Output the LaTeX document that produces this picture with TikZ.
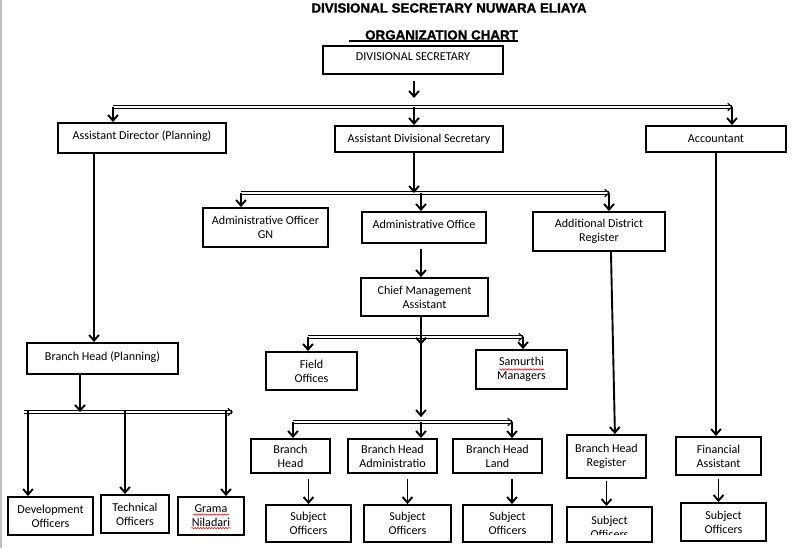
\documentclass[tikz,border=0pt]{standalone}
\usepackage{fontspec}
\setmainfont{Carlito}
\newfontfamily\titlefont[BoldFeatures = {FakeBold = 1.5}]{Liberation Sans}
\usepackage{tikz}
\usetikzlibrary{arrows.meta}
\usetikzlibrary{decorations.pathmorphing}
\usetikzlibrary{decorations.markings}

\begin{document}
\begin{tikzpicture}[x = .025cm, y = -.025cm,
  box/.style = {draw, line width = 1.35pt, inner sep = 0, align = center, font = \fontsize{8.6}{10}\selectfont},
  boxtext/.style = {inner sep = 0, align = center, font = \fontsize{8.6}{10}\selectfont},
  arr/.style = {line width = 1.35pt, -{Straight Barb[length = 4pt, width = 7pt]}},
  bus/.style = {draw = black, line width = 3pt,
    postaction = {draw = white, line width = 1.2pt},
    postaction = {decorate, decoration = {markings, mark = at position 1 with {\draw[black, line width = .8pt] (-3pt, 2.6pt) -- (0, 0) -- (-3pt, -2.6pt);}}}},
  squiggle/.style = {red, line width = .4pt, decorate, decoration = {snake, amplitude = .5pt, segment length = 2pt}}]
  \useasboundingbox (0, 0) rectangle (802, 548);
  \draw[gray!50, line width = 1.5pt] (1, 0) -- (1, 548);

  % titles
  \node[inner sep = 0, font = \titlefont\bfseries\fontsize{9.5}{11}\selectfont] (title) at (449, 8) {DIVISIONAL SECRETARY NUWARA ELIAYA};
  \node[inner sep = 0, font = \titlefont\bfseries\fontsize{9.5}{11}\selectfont] (sub) at (441.5, 35) {ORGANIZATION CHART};
  \coordinate (ul) at (349, 41);
  \draw[line width = .9pt] (ul) -- (ul -| sub.east);

  % boxes
  \node[box, minimum width = 4.5cm, minimum height = .7cm, text depth = 5pt] (ds) at (413, 60) {DIVISIONAL SECRETARY};
  \node[box, minimum width = 4.2cm, minimum height = .75cm, text depth = 4pt] (adp) at (142, 138) {Assistant Director (Planning)};
  \node[box, minimum width = 4.2cm, minimum height = .65cm] (ads) at (419, 139) {Assistant Divisional Secretary};
  \node[box, minimum width = 3.5cm, minimum height = .65cm] (acc) at (716, 139) {Accountant};
  \node[box, minimum width = 3.775cm, minimum height = .775cm, text depth = 4pt] (bhp) at (102.5, 358.5) {Branch Head (Planning)};
  \node[box, minimum width = 2.125cm, minimum height = .95cm] (dev) at (50.5, 516) {Development\\Officers};
  \node[box, minimum width = 1.7cm, minimum height = .95cm] (tec) at (135, 514) {Technical\\Officers};
  \node[box, minimum width = 1.65cm, minimum height = .95cm] (gra) at (211, 516) {Grama\\Niladari};
  \node[box, minimum width = 3.125cm, minimum height = .975cm] (aog) at (265.5, 227.5) {Administrative Officer\\GN};
  \node[box, minimum width = 3.1cm, minimum height = .775cm, text depth = 5pt] (aof) at (424, 227.5) {Administrative Office};
  \node[box, minimum width = 3.3cm, minimum height = .975cm] (adr) at (599, 231.5) {Additional District\\Register};
  \node[box, minimum width = 3.175cm, minimum height = .95cm] (cma) at (424.5, 297) {Chief Management\\Assistant};
  \node[box, minimum width = 2.275cm, minimum height = .95cm] (fld) at (311.5, 371) {Field\\Offices};
  \node[box, minimum width = 2.275cm, minimum height = .975cm] (sam) at (521.5, 369.5) {Samurthi\\Managers};
  \node[box, minimum width = 1.975cm, minimum height = .85cm] (bh) at (290.5, 456) {Branch\\Head};
  \node[box, minimum width = 2.225cm, minimum height = .85cm] (bha) at (392.5, 456) {Branch Head\\Administratio};
  \node[box, minimum width = 2.225cm, minimum height = .85cm] (bhl) at (497.5, 456) {Branch Head\\Land};
  \node[box, minimum width = 2.125cm, minimum height = .925cm] (so1) at (308.5, 523.5) {Subject\\Officers};
  \node[box, minimum width = 2.175cm, minimum height = .925cm] (so2) at (407.5, 523.5) {Subject\\Officers};
  \node[box, minimum width = 2.225cm, minimum height = .925cm] (so3) at (507.5, 523.5) {Subject\\Officers};
  \node[box, minimum width = 1.975cm, minimum height = 1.075cm] (bhr) at (606.5, 456.5) {Branch Head\\Register};
  \node[box, minimum width = 2.125cm, minimum height = .875cm] (so4) at (609.5, 524.5) {};
  \begin{scope}
    \clip (so4.north west) rectangle ([yshift = 5.7pt]so4.south east);
    \node[boxtext] at ([yshift = -2pt]so4.center) {Subject\\Officers};
  \end{scope}
  \node[box, minimum width = 2.125cm, minimum height = .95cm] (fa) at (718.5, 456) {Financial\\Assistant};
  \node[box, minimum width = 2.125cm, minimum height = .95cm] (so5) at (723.5, 522) {Subject\\Officers};

  % spelling marks
  \draw[squiggle] ([xshift = -12.8pt, yshift = 1pt]gra.center) -- ([xshift = 12.8pt, yshift = 1pt]gra.center);
  \draw[squiggle] ([xshift = -14pt, yshift = -8.6pt]gra.center) -- ([xshift = 14pt, yshift = -8.6pt]gra.center);
  \draw[squiggle] ([xshift = -16pt]sam.center) -- ([xshift = 16pt]sam.center);

  % bus lines
  \coordinate (b1l) at (113, 107);
  \coordinate (b1m) at (414, 107);
  \coordinate (b1r) at (732, 107);
  \coordinate (b2l) at (241, 193);
  \coordinate (b2m) at (414, 193);
  \coordinate (b2a) at (421, 193);
  \coordinate (b2r) at (609, 193);
  \coordinate (b3l) at (308, 337);
  \coordinate (b3m) at (421, 337);
  \coordinate (b3r) at (523, 337);
  \coordinate (b4l) at (24, 412);
  \coordinate (b4m) at (80, 412);
  \coordinate (b4r) at (232, 412);
  \coordinate (d-dev) at (28, 410);
  \coordinate (d-tec) at (125, 410);
  \coordinate (d-gra) at (226, 410);
  \coordinate (b5l) at (293, 422);
  \coordinate (b5m) at (421, 422);
  \coordinate (b5r) at (512, 422);
  \coordinate (c-plan) at (94, 153);

  \path[bus] (b1l) -- (b1r);
  \path[bus] (b2l) -- (b2r);
  \path[bus] (b3l) -- (b3r);
  \path[bus] (b4l) -- (b4r);
  \path[bus] (b5l) -- (b5r);

  % connectors
  \draw[arr, shorten <= 4.3pt, shorten >= 6.4pt] (ds.south -| b1m) -- (b1m);
  \draw[arr] (b1l) -- (b1l |- adp.north);
  \draw[arr] (b1m) -- (b1m |- ads.north);
  \draw[arr] (b1r) -- (b1r |- acc.north);

  \draw[arr] (c-plan) -- (c-plan |- bhp.north);
  \draw[arr] (bhp.south -| b4m) -- (b4m);
  \draw[arr] (d-dev) -- (d-dev |- dev.north);
  \draw[arr] (d-tec) -- (d-tec |- tec.north);
  \draw[arr] (d-gra) -- (d-gra |- gra.north);

  \draw[arr] (ads.south -| b2m) -- (b2m);
  \draw[arr] (b2l) -- (b2l |- aog.north);
  \draw[arr] (b2a) -- (b2a |- aof.north);
  \draw[arr] (b2r) -- (b2r |- adr.north);

  \draw[arr, shorten <= 3.5pt] (aof.south -| b2a) -- (cma.north -| b2a);
  \draw[arr] (cma.south -| b3m) -- ([yshift = -5.5pt]b3m);
  \draw[arr] (b3l) -- (b3l |- fld.north);
  \draw[arr] (b3r) -- (b3r |- sam.north);
  \draw[arr] (b3m) -- ([yshift = 3.5pt]b5m);
  \draw[arr] (b5l) -- (b5l |- bh.north);
  \draw[arr] (b5m) -- (b5m |- bha.north);
  \draw[arr] (b5r) -- (b5r |- bhl.north);

  \draw[arr, shorten <= 3.5pt] (so1.north |- bh.south) -- (so1.north);
  \draw[arr, shorten <= 3.5pt] (so2.north |- bha.south) -- (so2.north);
  \draw[arr, shorten <= 3.5pt] (b5r |- bhl.south) -- (b5r |- so3.north);

  \draw[arr] ([xshift = 8.5pt]adr.south) -- ([xshift = 6pt]bhr.north);
  \draw[arr, shorten <= 1.5pt] (bhr.south) -- (bhr.south |- so4.north);
  \draw[arr] (acc.south) -- (acc.south |- fa.north);
  \draw[arr, shorten <= 2pt] (fa.south) -- (fa.south |- so5.north);
\end{tikzpicture}
\end{document}
